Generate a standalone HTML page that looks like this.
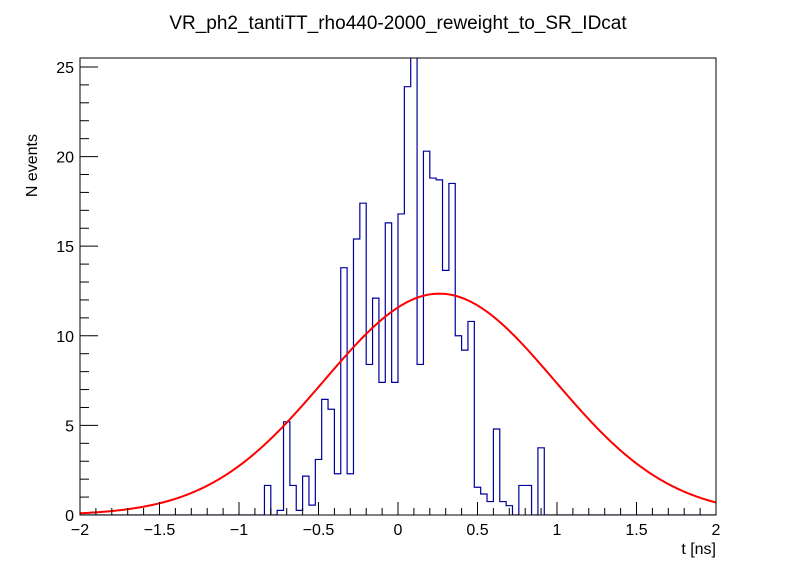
<!DOCTYPE html>
<html><head><meta charset="utf-8"><style>
body{margin:0;background:#fff;}
svg{display:block;font-family:"Liberation Sans",sans-serif;}
</style></head><body>
<svg id="c" width="796" height="572">
<rect width="796" height="572" fill="#fff"/>
<text x="398" y="29" font-size="19" text-anchor="middle">VR_ph2_tantiTT_rho440-2000_reweight_to_SR_IDcat</text>
<defs><clipPath id="cl"><rect x="80" y="58" width="636" height="457"/></clipPath></defs>
<g id="marks" clip-path="url(#cl)"></g>
<rect x="80" y="58" width="636" height="457" fill="none" stroke="#000" stroke-width="1"/>
<g id="axes"></g>
<text x="716" y="554" font-size="16" text-anchor="end">t [ns]</text>
<text transform="translate(37,134) rotate(-90)" font-size="16" text-anchor="end">N events</text>
</svg>
<script>
const xMin=-2, xMax=2, yMin=0, yMax=25.5, nBins=100;
// nonzero bins: index -> value
const binIndex=[29,31,32,33,34,35,36,37,38,39,40,41,42,43,44,45,46,47,48,49,50,51,52,53,54,55,56,57,58,59,60,61,62,63,64,65,66,67,69,70,72];
const binValue=[1.65,0.26,5.2,1.65,0.26,2.17,0.55,3.1,6.45,5.9,2.3,13.8,2.3,15.4,17.4,8.4,12.1,7.4,16.3,7.4,16.8,23.9,27,8.4,20.3,18.8,18.7,13.65,18.5,10.0,9.2,10.8,1.55,1.17,0.75,4.8,0.75,0.52,1.65,1.65,3.75];
const gausParams=[12.35,0.26,0.726];
const xTicks=[-2,-1.5,-1,-0.5,0,0.5,1,1.5,2];
const xTickLabels=["−2","−1.5","−1","−0.5","0","0.5","1","1.5","2"];
const yTicks=[0,5,10,15,20,25];
const yTickLabels=["0","5","10","15","20","25"];
const X0=80,X1=716,Y0=515,Y1=58;
const sx=v=>X0+(v-xMin)/(xMax-xMin)*(X1-X0);
const sy=v=>Y0-(v-yMin)/(yMax-yMin)*(Y0-Y1);
const NS="http://www.w3.org/2000/svg";
const marks=document.getElementById('marks'), axes=document.getElementById('axes');
function mk(tag,attrs,parent){const e=document.createElementNS(NS,tag);for(const k in attrs)e.setAttribute(k,attrs[k]);parent.appendChild(e);return e;}
const vals=new Array(nBins).fill(0);
binIndex.forEach((b,i)=>vals[b]=binValue[i]);
const w=(xMax-xMin)/nBins;
let d="M"+sx(xMin)+","+sy(0);
for(let i=0;i<nBins;i++){const a=xMin+i*w,b=a+w;d+=" L"+sx(a)+","+sy(vals[i])+" L"+sx(b)+","+sy(vals[i]);}
d+=" L"+sx(xMax)+","+sy(0);
const h=mk('path',{d:d,fill:'none',stroke:'#00009c','stroke-width':1.2},marks);


let g="";
for(let i=0;i<=400;i++){const x=xMin+i*(xMax-xMin)/400;const y=gausParams[0]*Math.exp(-0.5*Math.pow((x-gausParams[1])/gausParams[2],2));g+=(i?" L":"M")+sx(x).toFixed(2)+","+sy(y).toFixed(2);}
const f=mk('path',{d:g,fill:'none',stroke:'#ff0000','stroke-width':2},marks);


for(let v=-2;v<=2.0001;v+=0.1){const major=Math.abs(v*2-Math.round(v*2))<1e-6;const t=mk('line',{x1:sx(v),x2:sx(v),y1:Y0,y2:Y0-(major?13:7),stroke:'#000'},axes);}
xTicks.forEach((v,i)=>{const t=mk('text',{x:sx(v),y:Y0+20,'font-size':16,'text-anchor':'middle'},axes);t.textContent=xTickLabels[i];

});
for(let v=0;v<=yMax;v+=1){const major=v%5===0;const t=mk('line',{x1:X0,x2:X0+(major?18:9),y1:sy(v),y2:sy(v),stroke:'#000'},axes);}
yTicks.forEach((v,i)=>{const t=mk('text',{x:X0-6,y:sy(v)+6,'font-size':16,'text-anchor':'end'},axes);t.textContent=yTickLabels[i];

});
</script>
</body></html>
